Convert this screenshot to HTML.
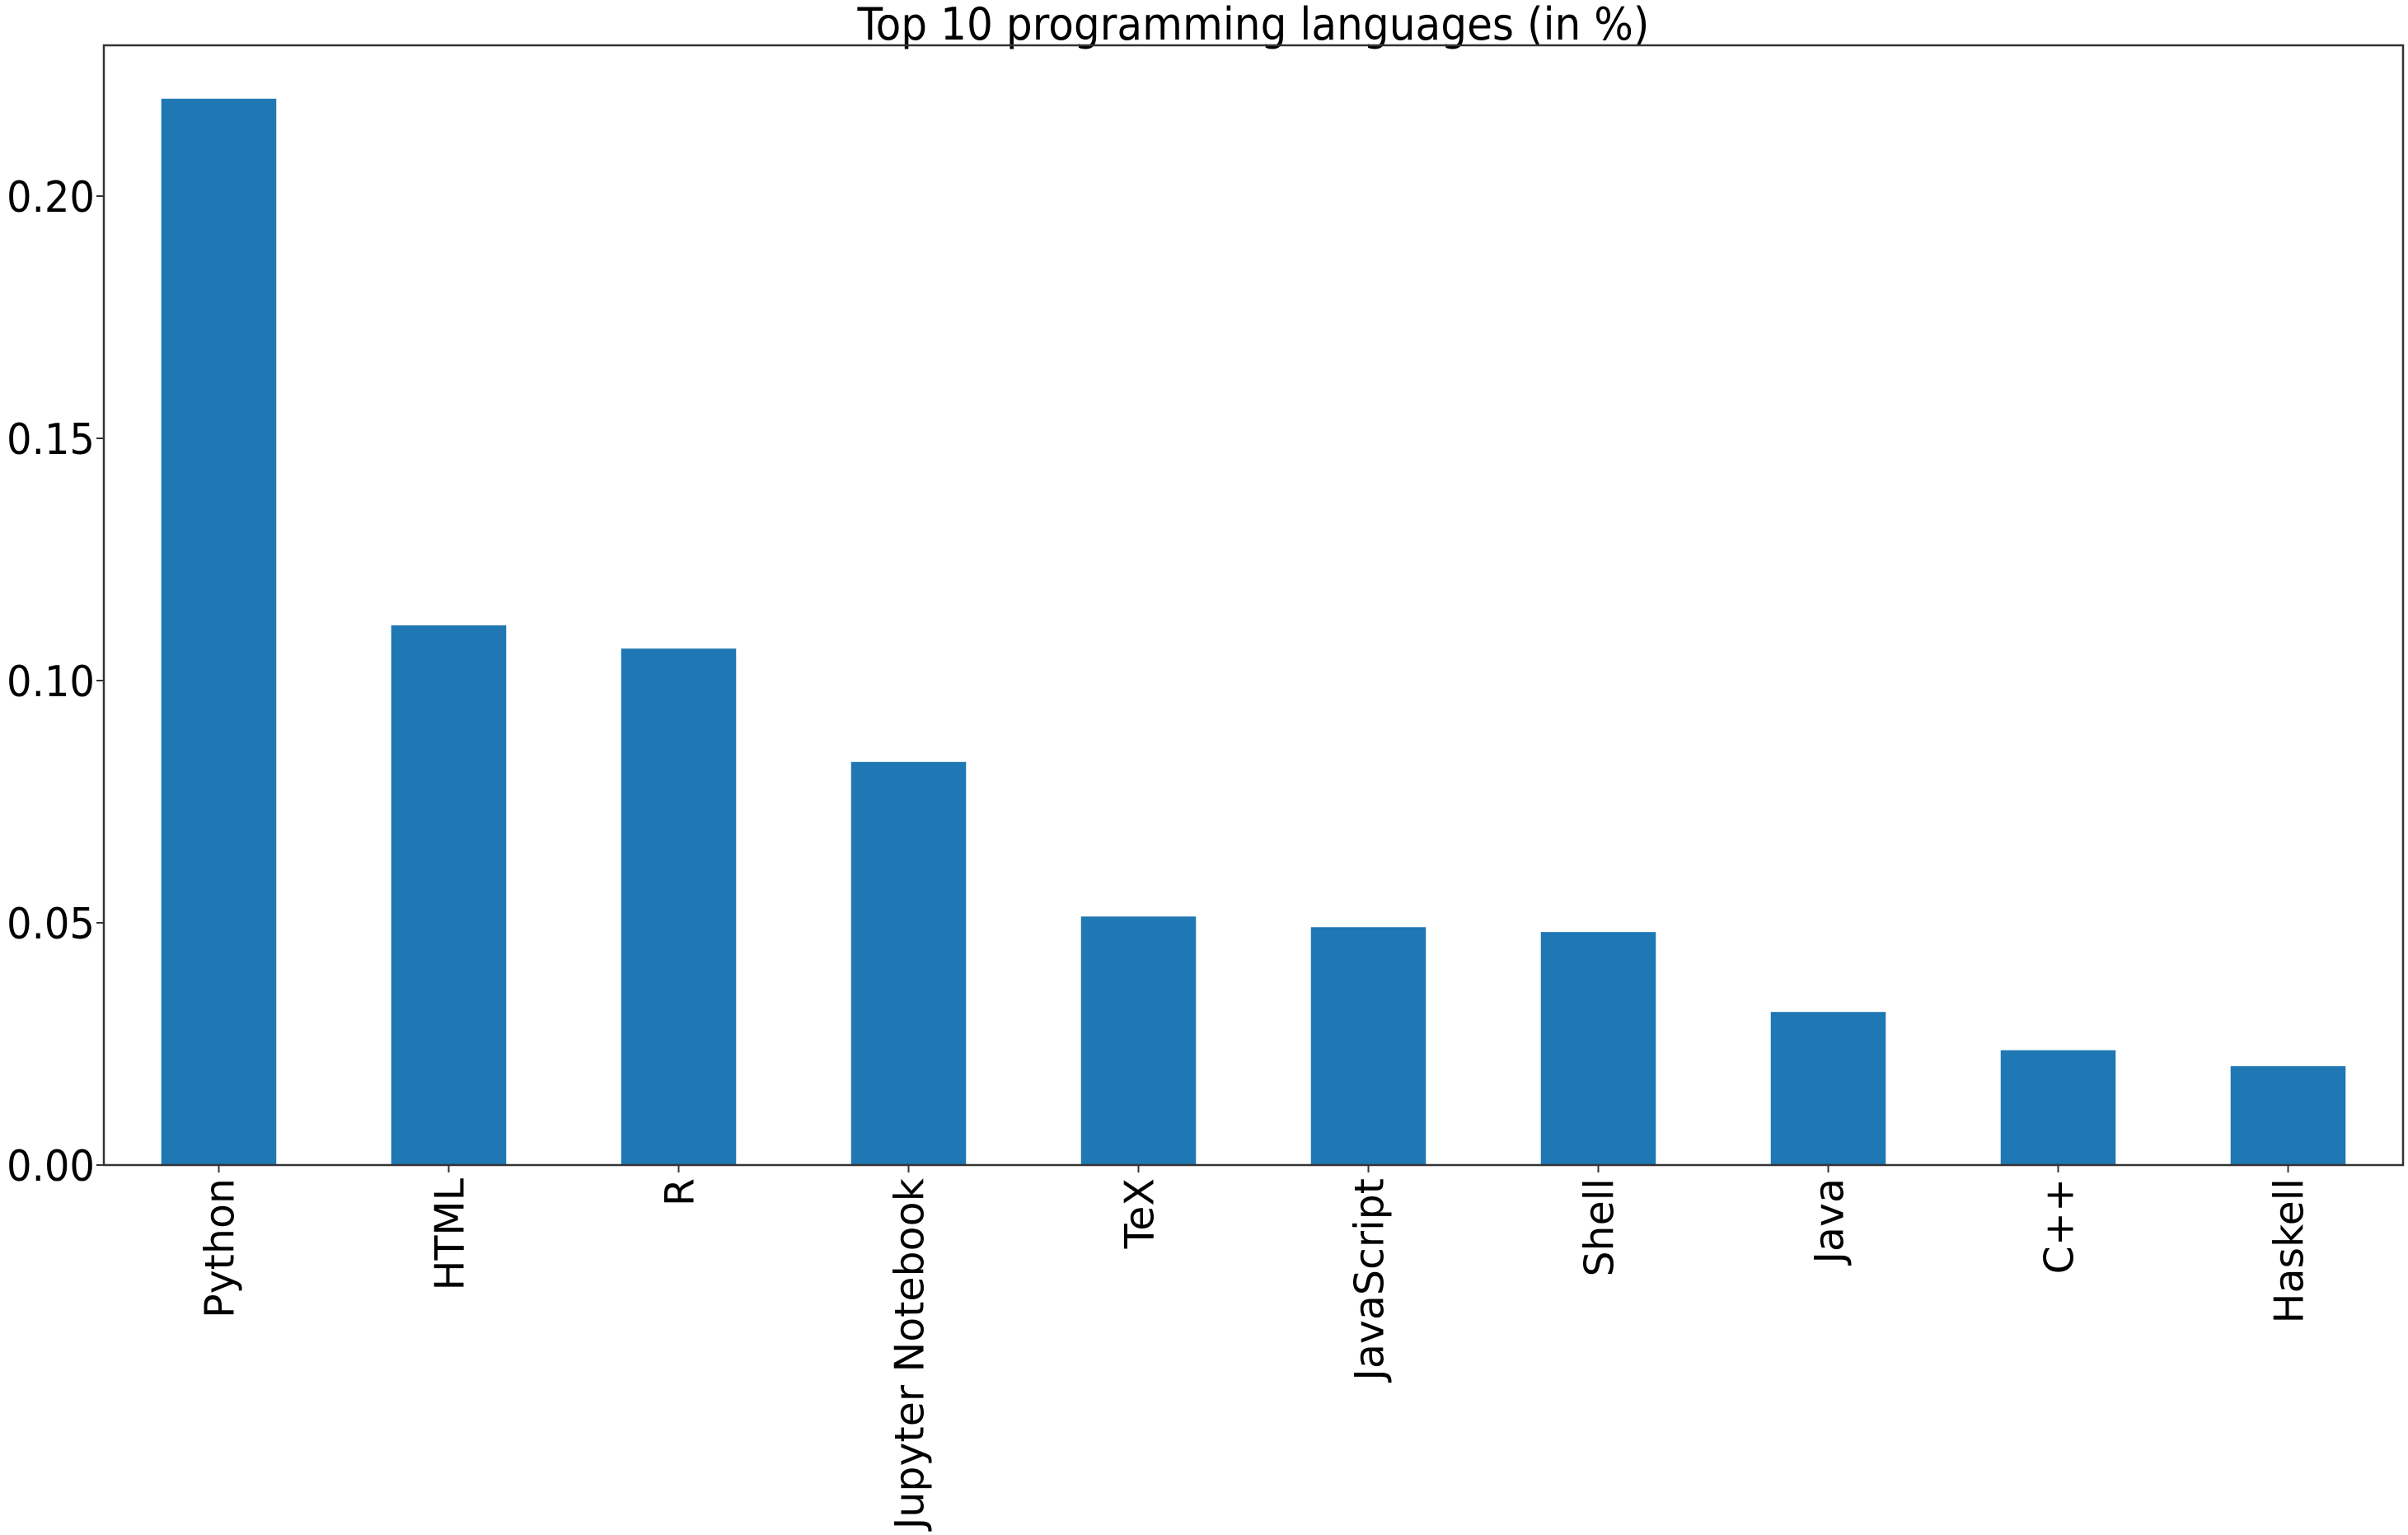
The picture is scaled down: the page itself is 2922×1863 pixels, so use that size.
<!DOCTYPE html>
<html><head><meta charset="utf-8"><style>
html,body{margin:0;padding:0;background:#fff;}
svg{display:block;font-family:"DejaVu Sans","Liberation Sans",sans-serif;}
</style></head><body>
<svg id="chart" width="2922" height="1863" viewBox="0 0 2922 1863">
<text x="1521" y="48" font-size="54" text-anchor="middle" textLength="961" lengthAdjust="spacingAndGlyphs">Top 10 programming languages (in %)</text>
<g id="bars"></g>
<g id="yaxis"></g>
<g id="xaxis"></g>
<rect x="126" y="55" width="2790" height="1359" fill="none" stroke="#333" stroke-width="2.5"/>
</svg>
<script>
const categories = ["Python","HTML","R","Jupyter Notebook","TeX","JavaScript","Shell","Java","C++","Haskell"];
const values = [0.2201,0.1114,0.1066,0.0832,0.0513,0.0491,0.0481,0.0316,0.0237,0.0204];
const yTicks = [0,0.05,0.10,0.15,0.20];
const yTickLabels = ["0.00","0.05","0.10","0.15","0.20"];

const NS = "http://www.w3.org/2000/svg";
const L = 126, R = 2916, T = 55, B = 1414;
const yMax = (B - T) / 5880;
function y(v){ return B - v / yMax * (B - T); }
const step = (R - L) / categories.length;
function x(i){ return L + step * (i + 0.5); }
const bw = step * 0.5;

const gb = document.getElementById('bars');
const gy = document.getElementById('yaxis');
const gx = document.getElementById('xaxis');
function mk(tag, attrs, parent){
  const e = document.createElementNS(NS, tag);
  for (const k in attrs) e.setAttribute(k, attrs[k]);
  parent.appendChild(e);
  return e;
}
values.forEach((v, i) => {
  const r = mk('rect', {x: x(i) - bw/2, y: y(v), width: bw, height: B - y(v), fill: '#1f77b4'}, gb);
  
  
});
yTicks.forEach((t, i) => {
  const ln = mk('line', {x1: L - 9, x2: L, y1: y(t), y2: y(t), stroke: '#333', 'stroke-width': 2}, gy);
  
  
  const tx = mk('text', {x: 115, y: y(t) + 19, 'font-size': 52, 'text-anchor': 'end', textLength: 107, lengthAdjust: 'spacingAndGlyphs'}, gy);
  tx.textContent = yTickLabels[i];
  
  
});
categories.forEach((c, i) => {
  const ln = mk('line', {x1: x(i), x2: x(i), y1: B, y2: B + 9, stroke: '#333', 'stroke-width': 2}, gx);
  
  
  const tx = mk('text', {x: 0, y: 0, 'font-size': 49, 'text-anchor': 'end', transform: 'translate(' + (x(i) + 18) + ',' + (B + 16) + ') rotate(-90)'}, gx);
  tx.textContent = c;
  
  
});
</script>
</body></html>
